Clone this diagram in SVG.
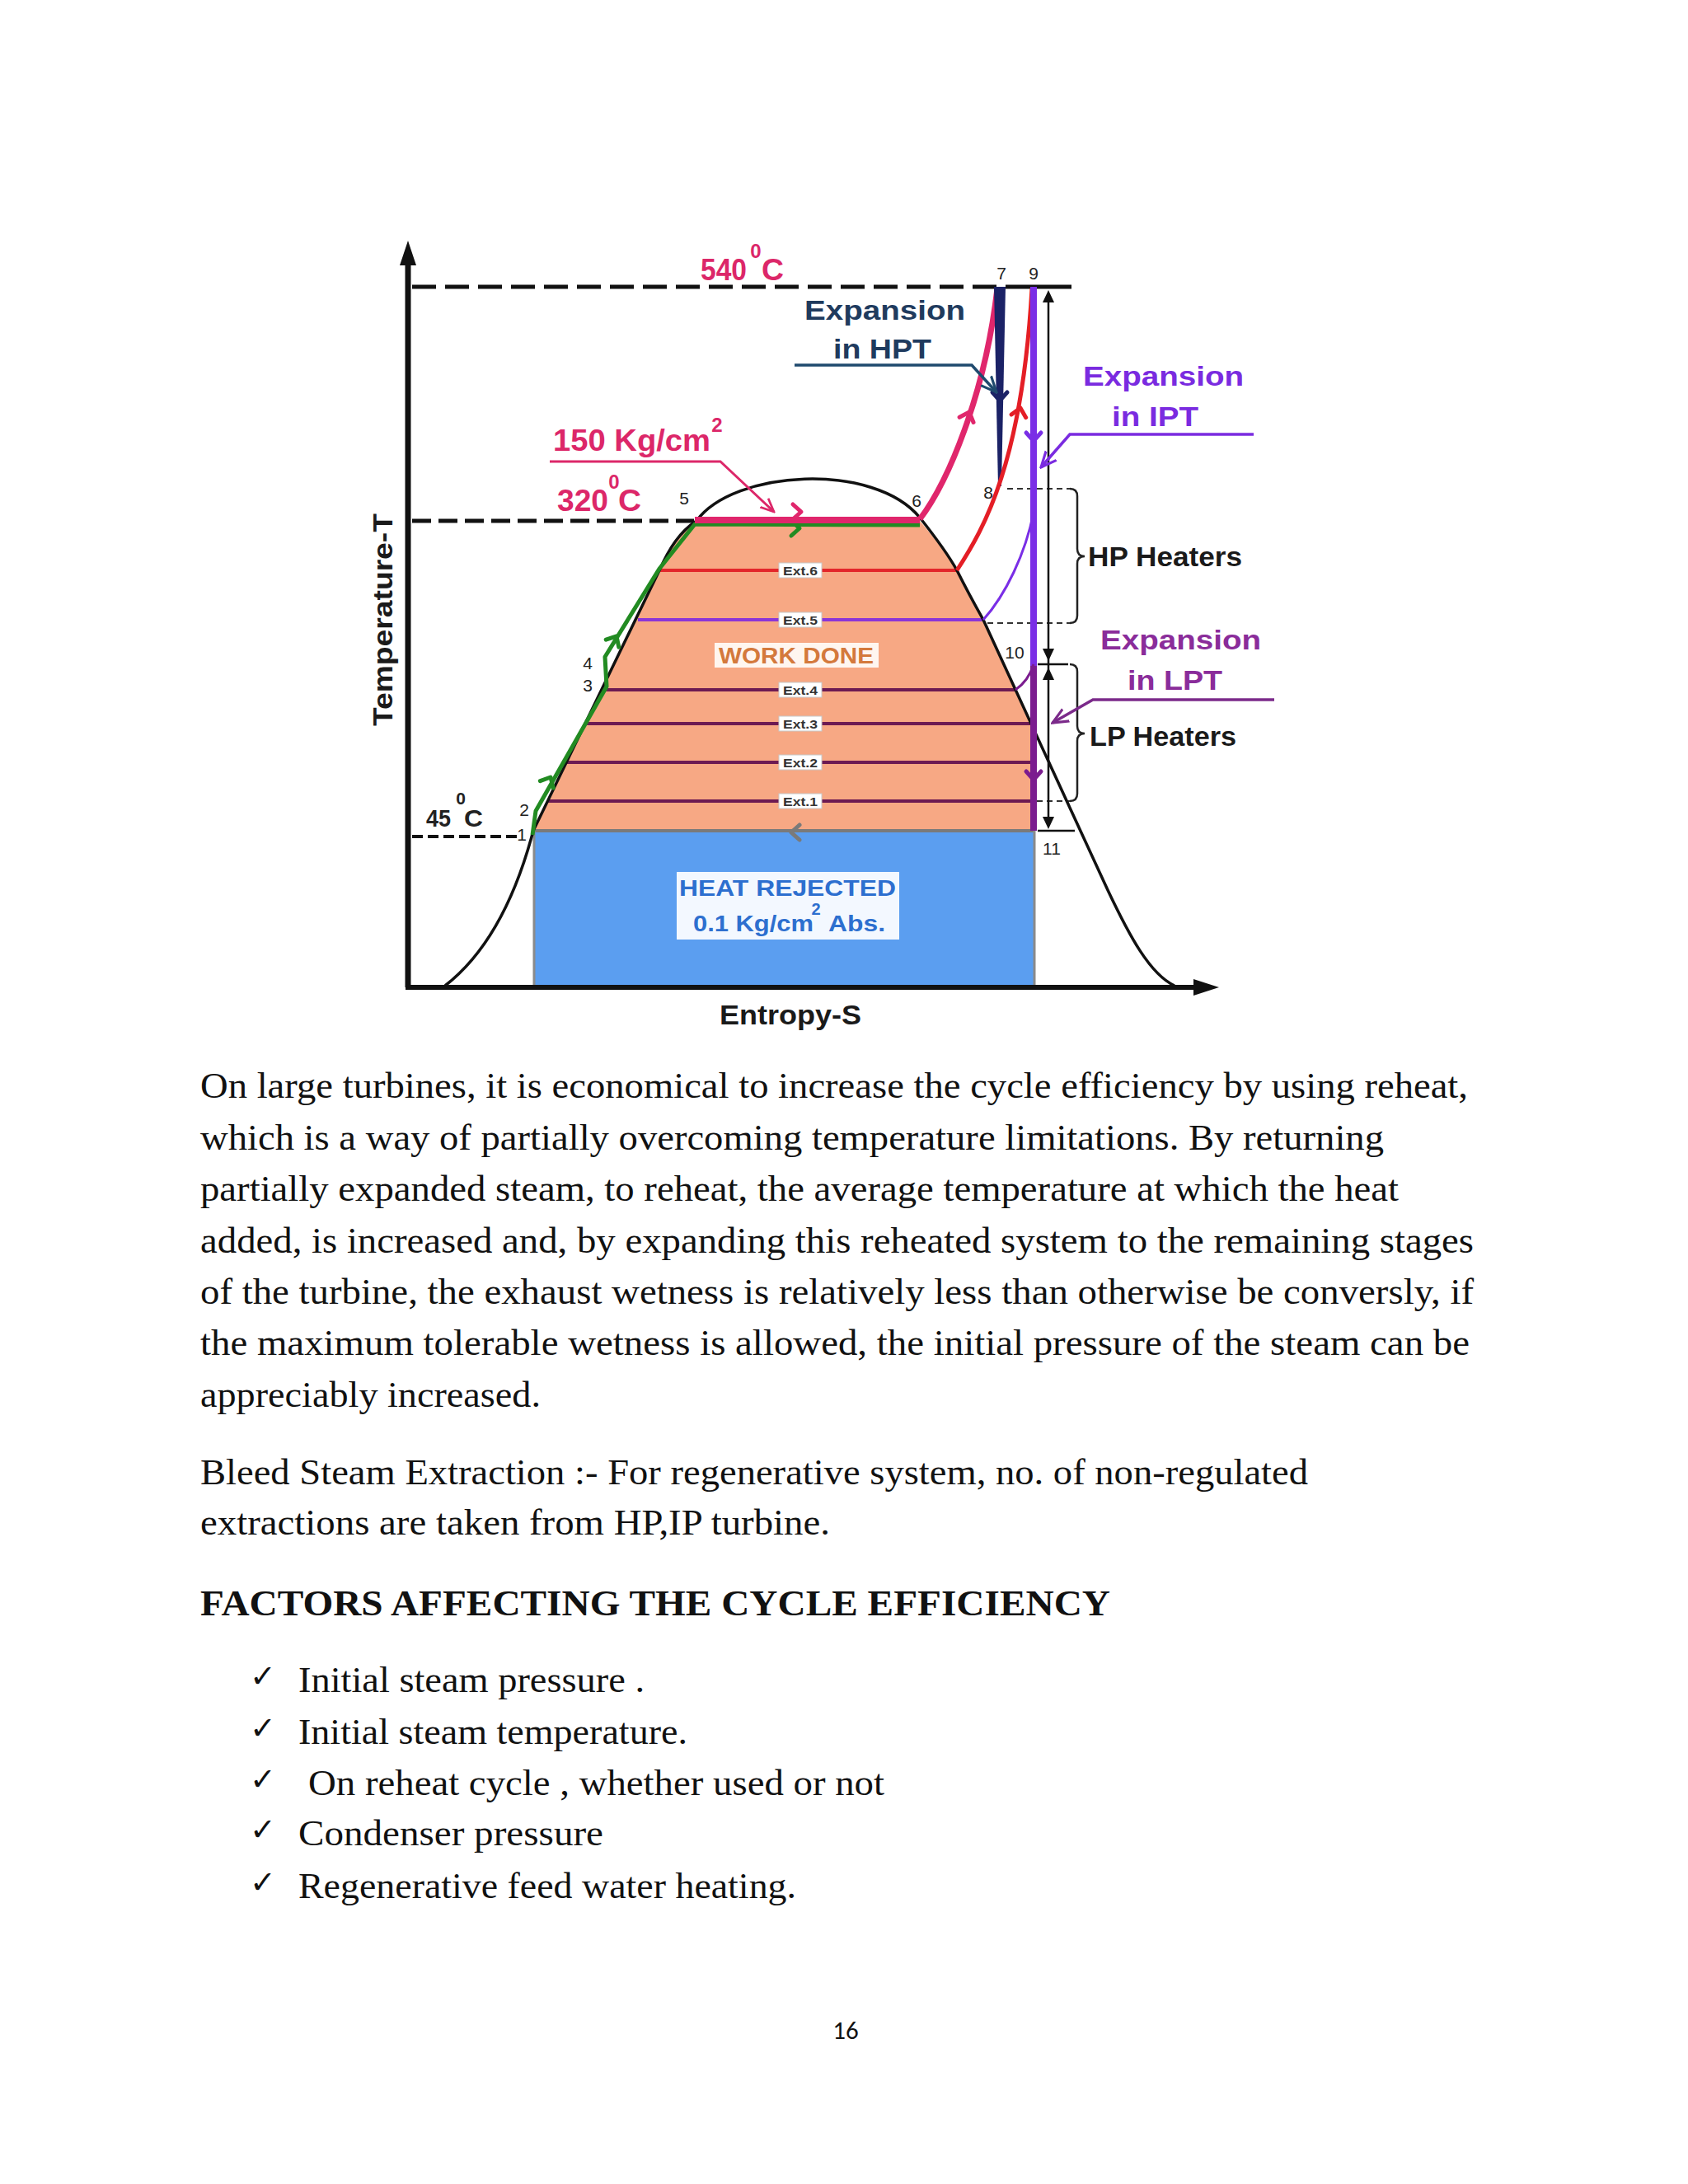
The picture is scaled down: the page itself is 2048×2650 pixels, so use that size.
<svg xmlns="http://www.w3.org/2000/svg" xmlns:xlink="http://www.w3.org/1999/xlink" width="2048" height="2650" viewBox="0 0 2048 2650">
<style>
.lbl{font-family:"Liberation Sans",Arial,sans-serif;font-weight:bold}
.pink{fill:#dc2769}
.pt{font-family:"Liberation Sans",Arial,sans-serif;font-size:21px;fill:#222;text-anchor:middle}
.ext rect{fill:#ffffff;stroke:#c8c8c8;stroke-width:1}
.ext text{font-family:"Liberation Sans",Arial,sans-serif;font-size:15px;font-weight:bold;fill:#333;text-anchor:middle}
.body{font-family:"Liberation Serif","Times New Roman",serif;font-size:45px;fill:#111}
.chk{font-family:"DejaVu Sans",sans-serif;font-size:38px;font-weight:bold;fill:#111}
</style>
<defs>
<path id="chev" d="M-10,-9 L0,0 L-10,9" fill="none" stroke="currentColor" stroke-width="5" stroke-linecap="round" stroke-linejoin="round"/>
<marker id="arrNavy" viewBox="0 0 10 10" refX="9" refY="5" markerWidth="6" markerHeight="6" orient="auto" markerUnits="strokeWidth"><path d="M0,1 L9,5 L0,9" fill="none" stroke="#1f4a6e" stroke-width="1.5"/></marker>
<marker id="arrViolet" viewBox="0 0 10 10" refX="9" refY="5" markerWidth="6" markerHeight="6" orient="auto" markerUnits="strokeWidth"><path d="M0,1 L9,5 L0,9" fill="none" stroke="#7a2be0" stroke-width="1.5"/></marker>
<marker id="arrPurple" viewBox="0 0 10 10" refX="9" refY="5" markerWidth="6" markerHeight="6" orient="auto" markerUnits="strokeWidth"><path d="M0,1 L9,5 L0,9" fill="none" stroke="#7b2a8a" stroke-width="1.5"/></marker>
<marker id="arrPink" viewBox="0 0 10 10" refX="9" refY="5" markerWidth="6" markerHeight="6" orient="auto" markerUnits="strokeWidth"><path d="M0,1 L9,5 L0,9" fill="none" stroke="#dc2769" stroke-width="1.5"/></marker>
</defs>
<rect width="2048" height="2650" fill="#ffffff"/>

<g id="diagram">
  <g id="work-area">
    <path d="M647,1008 L800,692 C812,665 825,645 845,632 L1116,632 C1135,655 1150,672 1161,692 Q1175,720 1193,752 L1255,887 L1255,1008 Z" fill="#f7a884"/>
  </g>
  <g id="heat-rejected-area">
    <rect x="647" y="1008" width="608" height="190" fill="#5b9ef0"/>
    <line x1="647" y1="1008" x2="1255" y2="1008" stroke="#7a7a7a" stroke-width="4"/>
    <line x1="648" y1="1008" x2="648" y2="1196" stroke="#8a8a8a" stroke-width="3"/>
    <line x1="1255" y1="1008" x2="1255" y2="1196" stroke="#8a8a8a" stroke-width="3"/>
    <use href="#chev" transform="translate(960,1010) rotate(180)" color="#7a7a7a"/>
  </g>

  <g id="extractions" stroke-width="4" fill="none">
    <line x1="800" y1="692" x2="1161" y2="692" stroke="#e3262a"/>
    <line x1="774" y1="752" x2="1193" y2="752" stroke="#8b35d6"/>
    <line x1="730" y1="837" x2="1232" y2="837" stroke="#6d1a52"/>
    <line x1="710" y1="878" x2="1255" y2="878" stroke="#6d1a52"/>
    <line x1="687" y1="925" x2="1255" y2="925" stroke="#6d1a52"/>
    <line x1="664" y1="972" x2="1255" y2="972" stroke="#6d1a52"/>
  </g>
  <g id="ext6" class="ext"><rect x="945" y="683" width="52" height="18"/><text x="971" y="698" textLength="42" lengthAdjust="spacingAndGlyphs">Ext.6</text></g>
  <g id="ext5" class="ext"><rect x="945" y="743" width="52" height="18"/><text x="971" y="758" textLength="42" lengthAdjust="spacingAndGlyphs">Ext.5</text></g>
  <g id="ext4" class="ext"><rect x="945" y="828" width="52" height="18"/><text x="971" y="843" textLength="42" lengthAdjust="spacingAndGlyphs">Ext.4</text></g>
  <g id="ext3" class="ext"><rect x="945" y="869" width="52" height="18"/><text x="971" y="884" textLength="42" lengthAdjust="spacingAndGlyphs">Ext.3</text></g>
  <g id="ext2" class="ext"><rect x="945" y="916" width="52" height="18"/><text x="971" y="931" textLength="42" lengthAdjust="spacingAndGlyphs">Ext.2</text></g>
  <g id="ext1" class="ext"><rect x="945" y="963" width="52" height="18"/><text x="971" y="978" textLength="42" lengthAdjust="spacingAndGlyphs">Ext.1</text></g>

  <g id="work-done">
    <rect x="867" y="780" width="199" height="30" fill="#fff6f0"/>
    <text x="966" y="805" class="lbl" font-size="27" fill="#d4793c" text-anchor="middle" textLength="188" lengthAdjust="spacingAndGlyphs">WORK DONE</text>
  </g>
  <g id="heat-rejected-label">
    <rect x="821" y="1058" width="270" height="82" fill="#f3f8ff"/>
    <text x="824" y="1087" class="lbl" font-size="28" fill="#2d6fcf" textLength="263" lengthAdjust="spacingAndGlyphs">HEAT REJECTED</text>
    <text x="841" y="1130" class="lbl" font-size="28" fill="#2d6fcf" textLength="146" lengthAdjust="spacingAndGlyphs">0.1 Kg/cm</text>
    <text x="990" y="1110" class="lbl" font-size="20" fill="#2d6fcf" text-anchor="middle">2</text>
    <text x="1005" y="1130" class="lbl" font-size="28" fill="#2d6fcf" textLength="69" lengthAdjust="spacingAndGlyphs">Abs.</text>
  </g>

  <g id="reference-lines" fill="none" stroke="#111">
    <line x1="500" y1="348" x2="1238" y2="348" stroke-width="5" stroke-dasharray="29 11"/>
    <line x1="1238" y1="348" x2="1300" y2="348" stroke-width="5"/>
    <line x1="500" y1="632" x2="842" y2="632" stroke-width="5" stroke-dasharray="23 9"/>
    <line x1="500" y1="1015" x2="628" y2="1015" stroke-width="4" stroke-dasharray="13 6"/>
    <line x1="1222" y1="593" x2="1298" y2="593" stroke-width="2" stroke-dasharray="7 5" stroke="#333"/>
    <line x1="1198" y1="756" x2="1298" y2="756" stroke-width="2" stroke-dasharray="7 5" stroke="#333"/>
    <line x1="1258" y1="972" x2="1298" y2="972" stroke-width="2" stroke-dasharray="7 5" stroke="#333"/>
  </g>

  <path id="dome" d="M540,1196 C580,1165 620,1110 647,1008 L800,692 C812,665 825,645 845,632 C890,570 1060,560 1116,628 C1135,652 1150,672 1161,692 Q1175,720 1193,752 L1344,1080 C1370,1135 1395,1182 1425,1196" fill="none" stroke="#111" stroke-width="3.5"/>

  <g id="axes">
    <line x1="495" y1="1198" x2="495" y2="315" stroke="#111" stroke-width="7"/>
    <path d="M495,292 L485,322 L505,322 Z" fill="#111"/>
    <line x1="492" y1="1198" x2="1455" y2="1198" stroke="#111" stroke-width="6"/>
    <path d="M1479,1198 L1448,1188 L1448,1208 Z" fill="#111"/>
    <text class="lbl" font-size="33" fill="#1a1a1a" text-anchor="middle" transform="translate(476,752) rotate(-90)" textLength="258" lengthAdjust="spacingAndGlyphs">Temperature-T</text>
    <text x="873" y="1243" class="lbl" font-size="34" fill="#1a1a1a" textLength="172" lengthAdjust="spacingAndGlyphs">Entropy-S</text>
  </g>

  <g id="connectors">
    <polyline points="646,1013 650,984 736,833 734,797 800,690 843,636 1116,637" fill="none" stroke="#228b22" stroke-width="5" stroke-linejoin="round"/>
    <use href="#chev" transform="translate(668,943) rotate(-62)" color="#228b22"/>
    <use href="#chev" transform="translate(748,772) rotate(-60)" color="#228b22"/>
    <use href="#chev" transform="translate(970,641)" color="#228b22"/>
    <line x1="843" y1="631" x2="1116" y2="631" stroke="#e0266c" stroke-width="8"/>
    <use href="#chev" transform="translate(972,621)" color="#e0266c"/>
    <path d="M1116,630 C1150,585 1195,480 1210,350" fill="none" stroke="#e0266c" stroke-width="7"/>
    <use href="#chev" transform="translate(1176,500) rotate(-70)" color="#e0266c"/>
    <polygon points="1206,348 1220,348 1215,590 1211,590" fill="#1b2266"/>
    <use href="#chev" transform="translate(1213,486) rotate(90)" color="#1b2266"/>
    <path d="M1161,692 C1195,640 1240,560 1252,350" fill="none" stroke="#e41e26" stroke-width="5"/>
    <use href="#chev" transform="translate(1238,495) rotate(-78)" color="#e41e26"/>
    <line x1="1254" y1="348" x2="1254" y2="812" stroke="#7a2ee6" stroke-width="8"/>
    <use href="#chev" transform="translate(1254,535) rotate(90)" color="#7a2ee6"/>
    <line x1="1254" y1="808" x2="1254" y2="1008" stroke="#7b1c8f" stroke-width="8"/>
    <use href="#chev" transform="translate(1254,946) rotate(90)" color="#7b1c8f"/>
    <path d="M1193,752 C1220,722 1244,672 1254,622" fill="none" stroke="#7a2ee6" stroke-width="3"/>
    <path d="M1232,837 Q1248,826 1254,806" fill="none" stroke="#7b1c8f" stroke-width="3"/>
    <line x1="1272" y1="360" x2="1272" y2="1000" stroke="#111" stroke-width="2.5"/>
    <path d="M1272,352 L1265,367 L1279,367 Z" fill="#111"/>
    <path d="M1272,802 L1265,787 L1279,787 Z" fill="#111"/>
    <line x1="1259" y1="806" x2="1296" y2="806" stroke="#111" stroke-width="2.5"/>
    <path d="M1272,810 L1265,825 L1279,825 Z" fill="#111"/>
    <path d="M1272,1006 L1265,991 L1279,991 Z" fill="#111"/>
    <line x1="1259" y1="1008" x2="1304" y2="1008" stroke="#111" stroke-width="2.5"/>
    <path d="M1298,593 Q1307,593 1307,602 L1307,666 Q1307,675 1316,675 Q1307,675 1307,684 L1307,747 Q1307,756 1298,756" fill="none" stroke="#222" stroke-width="2.5"/>
    <path d="M1298,806 Q1307,806 1307,815 L1307,881 Q1307,890 1316,890 Q1307,890 1307,899 L1307,963 Q1307,972 1298,972" fill="none" stroke="#222" stroke-width="2.5"/>
    <polyline points="667,560 874,560 939,621" fill="none" stroke="#dc2769" stroke-width="3" marker-end="url(#arrPink)"/>
    <polyline points="964,443 1179,443 1209,476" fill="none" stroke="#1f4a6e" stroke-width="3.5" marker-end="url(#arrNavy)"/>
    <polyline points="1521,527 1298,527 1263,567" fill="none" stroke="#7a2be0" stroke-width="3.5" marker-end="url(#arrViolet)"/>
    <polyline points="1546,849 1326,849 1277,877" fill="none" stroke="#7b2a8a" stroke-width="3.5" marker-end="url(#arrPurple)"/>
  </g>

  <g id="temp-labels">
    <text x="850" y="340" class="lbl pink" font-size="36" textLength="56" lengthAdjust="spacingAndGlyphs">540</text>
    <text x="917" y="313" class="lbl pink" font-size="24" text-anchor="middle">0</text>
    <text x="924" y="340" class="lbl pink" font-size="36" textLength="27" lengthAdjust="spacingAndGlyphs">C</text>
    <text x="671" y="547" class="lbl pink" font-size="36" textLength="191" lengthAdjust="spacingAndGlyphs">150 Kg/cm</text>
    <text x="870" y="524" class="lbl pink" font-size="24" text-anchor="middle">2</text>
    <text x="676" y="620" class="lbl pink" font-size="36" textLength="62" lengthAdjust="spacingAndGlyphs">320</text>
    <text x="745" y="593" class="lbl pink" font-size="24" text-anchor="middle">0</text>
    <text x="750" y="620" class="lbl pink" font-size="36" textLength="28" lengthAdjust="spacingAndGlyphs">C</text>
    <text x="517" y="1003" class="lbl" font-size="30" fill="#222" textLength="30" lengthAdjust="spacingAndGlyphs">45</text>
    <text x="559" y="976" class="lbl" font-size="21" fill="#222" text-anchor="middle">0</text>
    <text x="563" y="1003" class="lbl" font-size="30" fill="#222" textLength="23" lengthAdjust="spacingAndGlyphs">C</text>
  </g>
  <g id="expansion-hpt">
    <text x="976" y="388" class="lbl" font-size="33" fill="#1f3b5e" textLength="195" lengthAdjust="spacingAndGlyphs">Expansion</text>
    <text x="1011" y="435" class="lbl" font-size="33" fill="#1f3b5e" textLength="119" lengthAdjust="spacingAndGlyphs">in HPT</text>
  </g>
  <g id="expansion-ipt">
    <text x="1314" y="468" class="lbl" font-size="33" fill="#7a2be0" textLength="195" lengthAdjust="spacingAndGlyphs">Expansion</text>
    <text x="1349" y="517" class="lbl" font-size="33" fill="#7a2be0" textLength="105" lengthAdjust="spacingAndGlyphs">in IPT</text>
  </g>
  <g id="expansion-lpt">
    <text x="1335" y="788" class="lbl" font-size="33" fill="#8a2c9a" textLength="195" lengthAdjust="spacingAndGlyphs">Expansion</text>
    <text x="1368" y="837" class="lbl" font-size="33" fill="#8a2c9a" textLength="115" lengthAdjust="spacingAndGlyphs">in LPT</text>
  </g>
  <g id="hp-heaters"><text x="1320" y="687" class="lbl" font-size="34" fill="#1a1a1a" textLength="187" lengthAdjust="spacingAndGlyphs">HP Heaters</text></g>
  <g id="lp-heaters"><text x="1322" y="905" class="lbl" font-size="34" fill="#1a1a1a" textLength="178" lengthAdjust="spacingAndGlyphs">LP Heaters</text></g>
  <g id="state-points">
    <text class="pt" x="830" y="612">5</text>
    <text class="pt" x="1112" y="615">6</text>
    <text class="pt" x="1215" y="339">7</text>
    <text class="pt" x="1254" y="339">9</text>
    <text class="pt" x="1199" y="605">8</text>
    <text class="pt" x="1231" y="799">10</text>
    <text class="pt" x="1276" y="1037">11</text>
    <text class="pt" x="633" y="1020">1</text>
    <text class="pt" x="636" y="990">2</text>
    <text class="pt" x="713" y="812">4</text>
    <text class="pt" x="713" y="839">3</text>
  </g>
</g>

<g id="text-body">
  <text class="body" x="243" y="1332" textLength="1538" lengthAdjust="spacingAndGlyphs">On large turbines, it is economical to increase the cycle efficiency by using reheat,</text>
  <text class="body" x="243" y="1395" textLength="1436" lengthAdjust="spacingAndGlyphs">which is a way of partially overcoming temperature limitations. By returning</text>
  <text class="body" x="243" y="1457" textLength="1454" lengthAdjust="spacingAndGlyphs">partially expanded steam, to reheat, the average temperature at which the heat</text>
  <text class="body" x="243" y="1520" textLength="1545" lengthAdjust="spacingAndGlyphs">added, is increased and, by expanding this reheated system to the remaining stages</text>
  <text class="body" x="243" y="1582" textLength="1545" lengthAdjust="spacingAndGlyphs">of the turbine, the exhaust wetness is relatively less than otherwise be conversly, if</text>
  <text class="body" x="243" y="1644" textLength="1540" lengthAdjust="spacingAndGlyphs">the maximum tolerable wetness is allowed, the initial pressure of the steam can be</text>
  <text class="body" x="243" y="1707" textLength="413" lengthAdjust="spacingAndGlyphs">appreciably increased.</text>
  <text class="body" x="243" y="1801" textLength="1344" lengthAdjust="spacingAndGlyphs">Bleed Steam Extraction :- For regenerative system, no. of non-regulated</text>
  <text class="body" x="243" y="1862" textLength="764" lengthAdjust="spacingAndGlyphs">extractions are taken from HP,IP turbine.</text>
  <text class="body" x="243" y="1960" font-weight="bold" textLength="1104" lengthAdjust="spacingAndGlyphs">FACTORS AFFECTING THE CYCLE EFFICIENCY</text>
  <g id="checklist">
    <text class="chk" x="303" y="2047">✓</text>
    <text class="body" x="362" y="2053" textLength="420" lengthAdjust="spacingAndGlyphs">Initial steam pressure .</text>
    <text class="chk" x="303" y="2110">✓</text>
    <text class="body" x="362" y="2116" textLength="472" lengthAdjust="spacingAndGlyphs">Initial steam temperature.</text>
    <text class="chk" x="303" y="2172">✓</text>
    <text class="body" x="374" y="2178" textLength="699" lengthAdjust="spacingAndGlyphs">On reheat cycle , whether used or not</text>
    <text class="chk" x="303" y="2233">✓</text>
    <text class="body" x="362" y="2239" textLength="370" lengthAdjust="spacingAndGlyphs">Condenser pressure</text>
    <text class="chk" x="303" y="2297">✓</text>
    <text class="body" x="362" y="2303" textLength="604" lengthAdjust="spacingAndGlyphs">Regenerative feed water heating.</text>
  </g>
  <text x="1026" y="2474" font-family="Carlito, 'Liberation Sans', Arial, sans-serif" font-size="31" fill="#111" text-anchor="middle">16</text>
</g>
</svg>
